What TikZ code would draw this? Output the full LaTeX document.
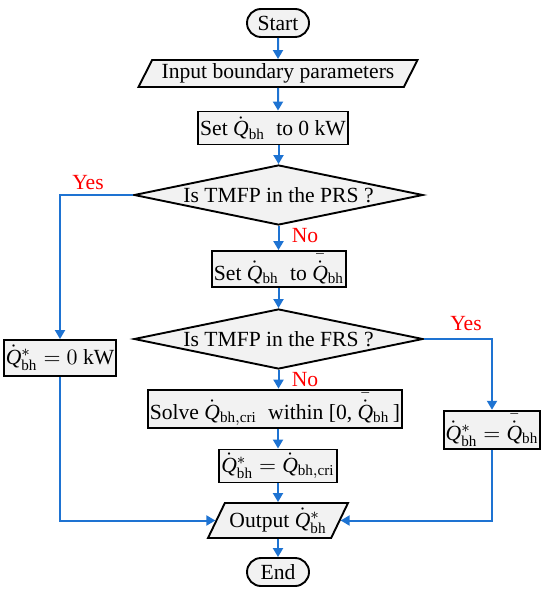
\documentclass[tikz,border=0pt]{standalone}
\usepackage{amsmath}
\usepackage{fontspec}
\setmainfont{Liberation Serif}
\usetikzlibrary{arrows.meta, shapes.geometric, calc}
\definecolor{flowblue}{RGB}{30,115,210}
\definecolor{boxgray}{RGB}{242,242,242}
\newcommand{\Qbh}{\dot{\mathit{Q}}_{\mathrm{bh}}}
\newcommand{\Qbhopt}{\dot{\mathit{Q}}^{*}_{\mathrm{bh}}}
\newcommand{\Qbhmax}{\bar{\raisebox{0pt}[1.2\height]{$\dot{\mathit{Q}}$}}_{\mathrm{bh}}}
\newcommand{\Qbhcri}{\dot{\mathit{Q}}_{\mathrm{bh,cri}}}

\begin{document}
\begin{tikzpicture}[x=0.5pt, y=-0.5pt, >={Triangle[width=5pt,length=4.5pt]},
  font=\fontsize{10.8}{13}\selectfont,
  base/.style={draw, line width=0.95pt, fill=boxgray, inner sep=1.5pt},
  term/.style={base, rounded corners=7pt, minimum width=31pt, minimum height=14pt},
  io/.style={base, trapezium, trapezium left angle=62, trapezium right angle=118, trapezium stretches body},
  proc/.style={base, rectangle, inner xsep=1pt, minimum height=16.5pt},
  decide/.style={base, diamond, aspect=4.8, inner sep=0pt, minimum width=144.5pt, minimum height=30pt},
  flow/.style={->, flowblue, line width=1pt},
  ans/.style={text=red, inner sep=0pt}]
  \useasboundingbox (0,0) rectangle (550,598);

  % Debut et lecture
  \node[term] (start) at (278,23) {Start};
  \node[io, minimum width=139.5pt, minimum height=13.5pt] (input) at (278,73.5) {Input boundary parameters};
  \node[proc, minimum width=71pt] (set0) at (273,128) {Set $\Qbh$\; to 0 kW};

  % Premier test
  \node[decide] (dec1) at (278.5,195) {Is TMFP in the PRS ?};
  \node[proc, minimum width=66.5pt, minimum height=17pt] (setmax) at (279,269) {Set $\Qbh$\; to $\Qbhmax$};

  % Second test
  \node[decide] (dec2) at (278.5,339) {Is TMFP in the FRS ?};
  \node[proc, minimum width=120.5pt] (solve) at (275,409) {Solve $\Qbhcri$\; within [0, $\Qbhmax$\,]};
  \node[proc, minimum width=53.5pt] (assign) at (278,466) {$\Qbhopt = \Qbhcri$};

  % Branches laterales
  \node[proc, minimum width=53.5pt, minimum height=18pt] (zero) at (60,358) {$\Qbhopt = 0$ kW};
  \node[proc, minimum width=48pt, minimum height=17pt] (maxr) at (492,430) {$\Qbhopt = \Qbhmax$};

  % Sortie et fin
  \node[io, minimum width=70pt, minimum height=17.5pt] (output) at (278,520.5) {Output $\Qbhopt$};
  \node[term] (end) at (278,572) {End};

  % Reponses
  \node[ans] (yes1) at (88,183) {Yes};
  \node[ans] (no1) at (305,236) {No};
  \node[ans] (yes2) at (466,324) {Yes};
  \node[ans] (no2) at (305,380) {No};

  % Fleches
  \draw[flow] (start) -- (input);
  \draw[flow] (input) -- (input |- set0.north);
  \draw[flow] (set0.south -| dec1.north) -- (dec1.north);
  \draw[flow] (dec1.south) -- (dec1.south |- setmax.north);
  \draw[flow] (dec1.west) -| (zero.north);
  \draw[flow] (setmax.south -| dec2.north) -- (dec2.north);
  \draw[flow] (dec2.south) -- (dec2.south |- solve.north);
  \draw[flow] (dec2.east) -| (maxr.north);
  \draw[flow] (solve.south -| assign.north) -- (assign.north);
  \draw[flow] (assign.south) -- (assign.south |- output.north);
  \draw[flow] (zero.south) |- (output.west);
  \draw[flow] (maxr.south) |- (output.east);
  \draw[flow] (output.south) -- (output.south |- end.north);
\end{tikzpicture}
\end{document}
